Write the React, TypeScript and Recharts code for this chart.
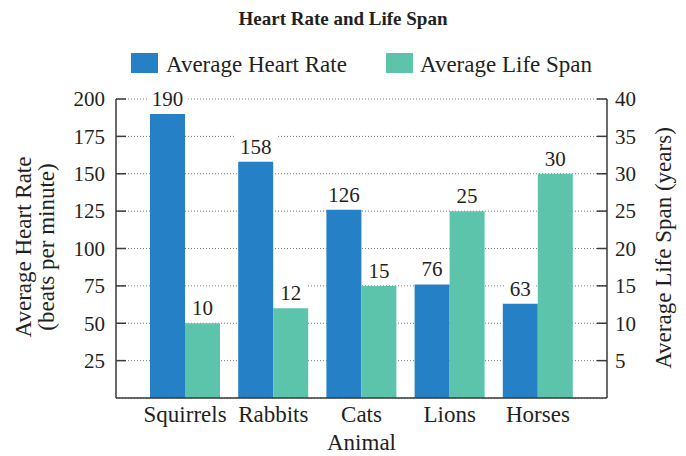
import React from 'react';
import { BarChart, Bar, XAxis, YAxis, CartesianGrid, LabelList } from 'recharts';

const categories = ['Squirrels', 'Rabbits', 'Cats', 'Lions', 'Horses'];
const heartRate = [190, 158, 126, 76, 63];
const lifeSpan = [10, 12, 15, 25, 30];
const heartRateTicks = [25, 50, 75, 100, 125, 150, 175, 200];
const lifeSpanTicks = [5, 10, 15, 20, 25, 30, 35, 40];

const FONT = '"Liberation Serif", "Times New Roman", serif';
const INK = '#231f20';
const AXIS = '#3a3a3a';
const BLUE = '#2680c6';
const GREEN = '#5dc4ac';

const data = categories.map((animal, i) => ({
  animal,
  heartRate: heartRate[i],
  lifeSpan: lifeSpan[i],
}));

const LeftTick = (props: any) => {
  const { x, y, payload } = props;
  return (
    <g>
      <line x1={x} x2={x + 10} y1={y} y2={y} stroke={AXIS} strokeWidth={1.5} />
      <text x={x - 11} y={y} dy="0.35em" textAnchor="end" fontSize={21} fontFamily={FONT} fill={INK}>
        {payload.value}
      </text>
    </g>
  );
};

const RightTick = (props: any) => {
  const { x, y, payload } = props;
  return (
    <g>
      <line x1={x - 10} x2={x} y1={y} y2={y} stroke={AXIS} strokeWidth={1.5} />
      <text x={x + 8} y={y} dy="0.35em" textAnchor="start" fontSize={21} fontFamily={FONT} fill={INK}>
        {payload.value}
      </text>
    </g>
  );
};

const ValueLabel = (props: any) => {
  const { x, y, width, value } = props;
  const cx = Number(x) + Number(width) / 2;
  const base = Number(y) - 8;
  const w = String(value).length * 10.5 + 10;
  return (
    <g>
      <rect x={cx - w / 2} y={base - 20} width={w} height={24} fill="#ffffff" />
      <text x={cx} y={base} textAnchor="middle" fontSize={21} fontFamily={FONT} fill={INK}>
        {value}
      </text>
    </g>
  );
};

export default function App() {
  return (
    <div style={{ position: 'absolute', left: 0, top: 0, width: 686, height: 456, fontFamily: FONT, background: '#fff' }}>
      <BarChart
        width={686}
        height={456}
        data={data}
        margin={{ top: 99, right: 0, bottom: 0, left: 0 }}
        barGap={0}
      >
        <CartesianGrid
          yAxisId="left"
          vertical={false}
          stroke="#777"
          strokeDasharray="1 2"
        />
        <XAxis
          dataKey="animal"
          height={58}
          padding={{ left: 25, right: 25 }}
          tickLine={false}
          tickSize={0}
          tickMargin={8}
          axisLine={{ stroke: AXIS, strokeWidth: 1.5 }}
          tick={{ fontSize: 23, fill: INK, fontFamily: FONT }}
          interval={0}
        />
        <YAxis
          yAxisId="left"
          orientation="left"
          width={116}
          domain={[0, 200]}
          ticks={heartRateTicks}
          tickLine={false}
          tickSize={0}
          tickMargin={0}
          axisLine={{ stroke: AXIS, strokeWidth: 1.5 }}
          tick={<LeftTick />}
          interval={0}
        />
        <YAxis
          yAxisId="right"
          orientation="right"
          width={79}
          domain={[0, 40]}
          ticks={lifeSpanTicks}
          tickLine={false}
          tickSize={0}
          tickMargin={0}
          axisLine={{ stroke: AXIS, strokeWidth: 1.5 }}
          tick={<RightTick />}
          interval={0}
        />
        <Bar dataKey="heartRate" yAxisId="left" fill={BLUE} barSize={35} isAnimationActive={false}>
          <LabelList dataKey="heartRate" content={<ValueLabel />} />
        </Bar>
        <Bar dataKey="lifeSpan" yAxisId="right" fill={GREEN} barSize={35} isAnimationActive={false}>
          <LabelList dataKey="lifeSpan" content={<ValueLabel />} />
        </Bar>
      </BarChart>
      <svg
        width={686}
        height={456}
        style={{ position: 'absolute', left: 0, top: 0, pointerEvents: 'none' }}
      >
        <text x={343} y={25} textAnchor="middle" fontSize={19} fontWeight="bold" fontFamily={FONT} fill={INK}>
          Heart Rate and Life Span
        </text>
        <rect x={131} y={53} width={27} height={20} fill={BLUE} />
        <text x={166} y={72} fontSize={23} fontFamily={FONT} fill={INK}>Average Heart Rate</text>
        <rect x={386} y={53} width={27} height={20} fill={GREEN} />
        <text x={420} y={72} fontSize={23} fontFamily={FONT} fill={INK}>Average Life Span</text>
        <text x={31} y={247} transform="rotate(-90 31 247)" textAnchor="middle" fontSize={23} fontFamily={FONT} fill={INK}>
          Average Heart Rate
        </text>
        <text x={54} y={247} transform="rotate(-90 54 247)" textAnchor="middle" fontSize={23} fontFamily={FONT} fill={INK}>
          (beats per minute)
        </text>
        <text x={671} y={248} transform="rotate(-90 671 248)" textAnchor="middle" fontSize={23} fontFamily={FONT} fill={INK}>
          Average Life Span (years)
        </text>
        <text x={361.5} y={450} textAnchor="middle" fontSize={23} fontFamily={FONT} fill={INK}>
          Animal
        </text>
      </svg>
    </div>
  );
}
